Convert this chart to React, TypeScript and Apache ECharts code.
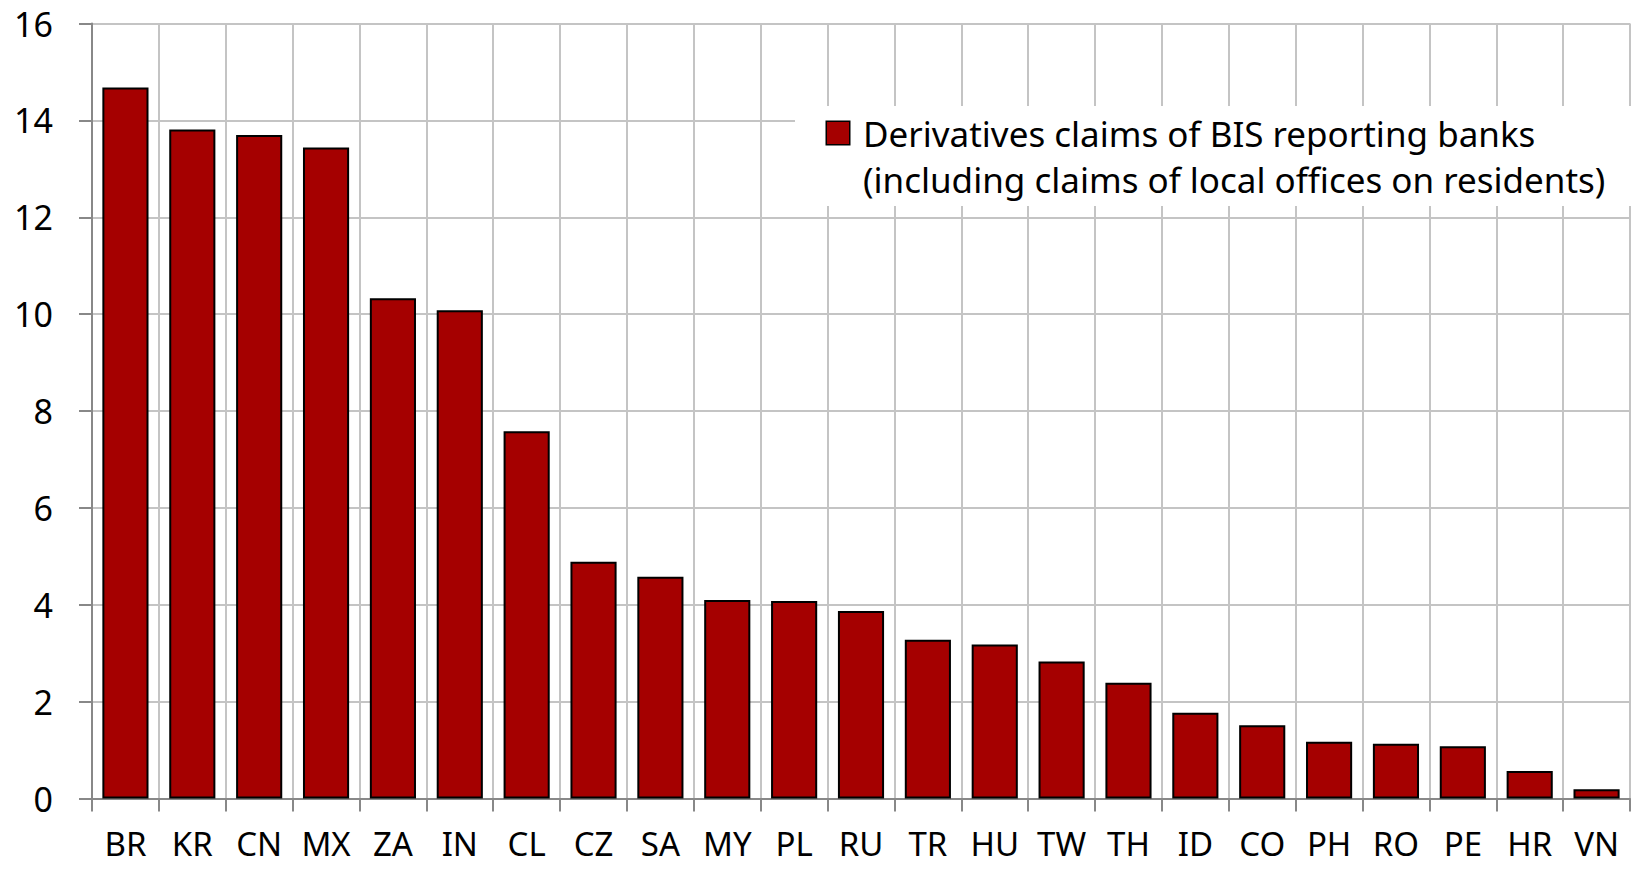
import React, { useEffect, useRef } from "react";
import * as echarts from "echarts";

const categories = ["BR", "KR", "CN", "MX", "ZA", "IN", "CL", "CZ", "SA", "MY", "PL", "RU", "TR", "HU", "TW", "TH", "ID", "CO", "PH", "RO", "PE", "HR", "VN"];
const values = [14.68, 13.81, 13.7, 13.44, 10.33, 10.08, 7.58, 4.89, 4.58, 4.1, 4.08, 3.87, 3.28, 3.18, 2.83, 2.39, 1.77, 1.51, 1.17, 1.13, 1.08, 0.57, 0.19];
const legendLine1 = "Derivatives claims of BIS reporting banks";
const legendLine2 = "(including claims of local offices on residents)";
const yTicks = { min: 0, max: 16, interval: 2 };

const FONT = "'Noto Sans', 'Open Sans', sans-serif";

export default function App() {
  const ref = useRef<HTMLDivElement>(null);
  useEffect(() => {
    if (!ref.current) return;
    const chart = echarts.init(ref.current, undefined, { renderer: "svg" });
    chart.setOption({
      animation: false,
      backgroundColor: "#fff",
      textStyle: { fontFamily: FONT },
      grid: { left: 92, right: 2, top: 23.5, bottom: 70.5, outerBoundsMode: "none", containLabel: false },
      legend: {
        left: 795,
        top: 106,
        padding: [4, 31, 4, 26],
        backgroundColor: "#fff",
        itemWidth: 0,
        itemHeight: 0,
        itemStyle: { opacity: 0 },
        selectedMode: false,
        formatter: () => `{box|}{gap|}{t|${legendLine1}}\n{sp|}{t|${legendLine2}}`,
        textStyle: {
          fontFamily: FONT,
          fontSize: 35,
          lineHeight: 46,
          color: "#000",
          rich: {
            box: { width: 22, height: 22, backgroundColor: "#A50000", borderColor: "#000", borderWidth: 1.5 },
            gap: { width: 14 },
            sp: { width: 36 },
            t: { fontFamily: FONT, fontSize: 35, lineHeight: 46, color: "#000" },
          },
        },
        data: [legendLine1],
      },
      xAxis: {
        type: "category",
        data: categories,
        boundaryGap: true,
        axisLine: { show: true, lineStyle: { color: "#888", width: 2 } },
        axisTick: { show: true, length: 13, lineStyle: { color: "#888", width: 2 } },
        splitLine: { show: true, lineStyle: { color: "#c4c4c4", width: 2 } },
        axisLabel: { color: "#000", fontSize: 33, lineHeight: 30, fontFamily: FONT, margin: 30, interval: 0 },
      },
      yAxis: {
        type: "value",
        min: yTicks.min,
        max: yTicks.max,
        interval: yTicks.interval,
        axisLine: { show: true, lineStyle: { color: "#888", width: 2 } },
        axisTick: { show: true, length: 13, lineStyle: { color: "#888", width: 2 } },
        splitLine: { show: true, lineStyle: { color: "#c4c4c4", width: 2 } },
        axisLabel: { color: "#000", fontSize: 34, fontFamily: FONT, margin: 39 },
      },
      series: [
        {
          name: legendLine1,
          type: "bar",
          data: values,
          barCategoryGap: "31%",
          itemStyle: { color: "#A50000", borderColor: "#000", borderWidth: 2 },
        },
      ],
    });
    return () => chart.dispose();
  }, []);
  return <div ref={ref} style={{ position: "fixed", left: 0, top: 0, width: 1632, height: 869 }} />;
}
